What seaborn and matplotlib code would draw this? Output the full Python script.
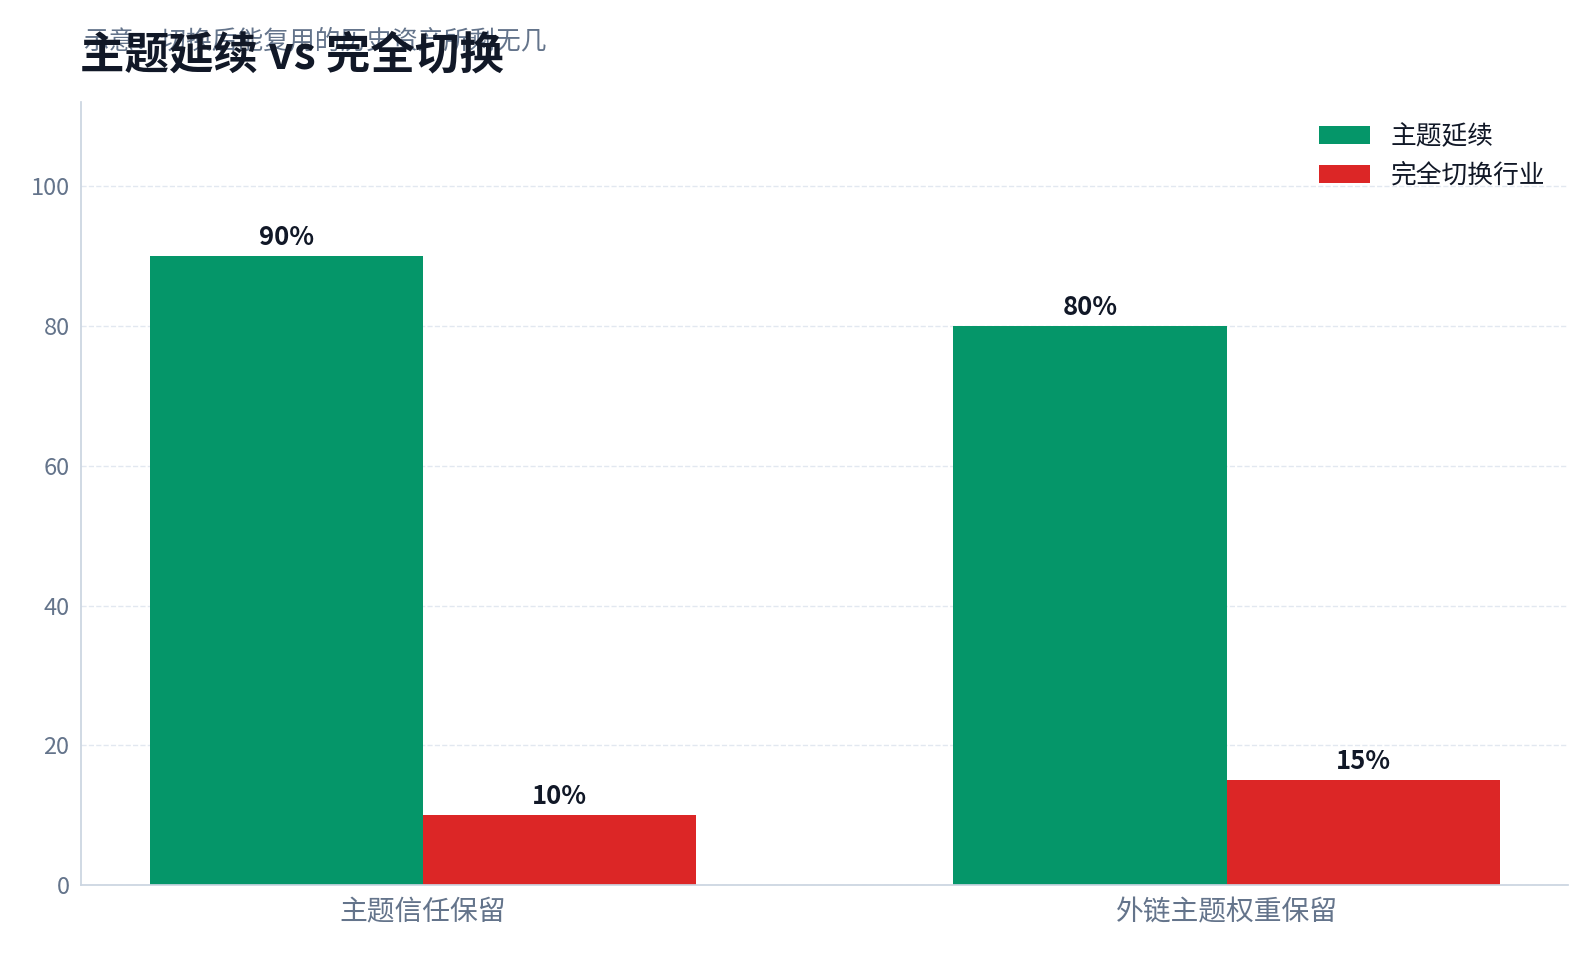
import pandas as pd
import matplotlib
matplotlib.use('Agg')
import matplotlib.pyplot as plt
import seaborn as sns

# data
categories = ['主题信任保留', '外链主题权重保留']
series_names = ['主题延续', '完全切换行业']
continue_vals = [90, 80]
switch_vals = [10, 15]
colors = ['#059669', '#dc2626']

df = pd.DataFrame({
    'category': categories * 2,
    'series': [series_names[0]] * 2 + [series_names[1]] * 2,
    'value': continue_vals + switch_vals,
})

sns.set_theme(style='white')
plt.rcParams['font.family'] = ['Noto Sans CJK SC', 'DejaVu Sans']

fig, ax = plt.subplots(figsize=(15.96, 9.57), dpi=100)
fig.subplots_adjust(left=0.051, right=0.9826, bottom=0.075, top=0.893)

sns.barplot(data=df, x='category', y='value', hue='series',
            palette=colors, width=0.68, saturation=1, linewidth=0, ax=ax)

# value labels
for cont in ax.containers:
    ax.bar_label(cont, labels=[f'{v:.0f}%' for v in cont.datavalues],
                 padding=4, fontsize=18.5, fontweight='bold', color='#111827')

ax.set_ylim(0, 112)
ax.set_xlim(-0.425, 1.425)
ax.set_yticks([0, 20, 40, 60, 80, 100])
ax.set_xlabel('')
ax.set_ylabel('')
ax.yaxis.grid(True, linestyle='--', color='#e2e8f0', linewidth=1)
ax.set_axisbelow(True)
ax.tick_params(axis='y', labelsize=17, colors='#64748b', length=5, color='#cbd5e1')
ax.tick_params(axis='x', labelsize=20, colors='#64748b', length=5, color='#cbd5e1')
sns.despine(ax=ax)
for s in ['left', 'bottom']:
    ax.spines[s].set_color('#cbd5e1')

leg = ax.legend(loc='upper right', frameon=False, fontsize=18.5,
                handlelength=2.0, handleheight=0.7, labelspacing=0.5,
                handletextpad=0.8, bbox_to_anchor=(1.0, 1.002))
for t in leg.get_texts():
    t.set_color('#111827')

# subtitle + title (overlapping, as in the reference)
fig.text(0.052, 0.957, '示意：切换后能复用的历史资产所剩无几', fontsize=18.5,
         color='#64748b', va='center', ha='left')
fig.text(0.05, 0.942, '主题延续 vs 完全切换', fontsize=32, fontweight='bold',
         color='#111827', va='center', ha='left')

fig.savefig('out.png', dpi=100)
